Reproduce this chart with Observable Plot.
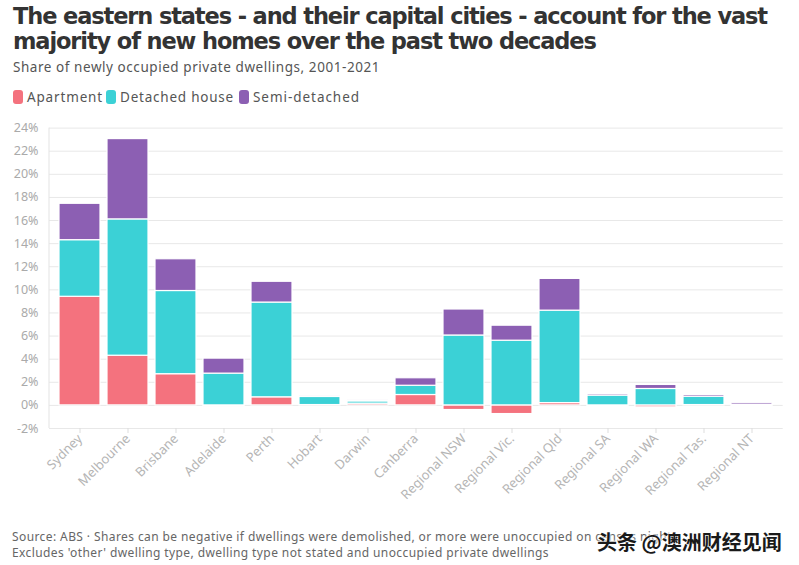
<!DOCTYPE html>
<html>
<head>
<meta charset="utf-8">
<script src="https://cdn.jsdelivr.net/npm/d3@7"></script>
<script src="https://cdn.jsdelivr.net/npm/@observablehq/plot@0.6"></script>
<style>
  html, body { margin: 0; padding: 0; background: #fff; }
  body { width: 799px; height: 565px; position: relative; overflow: hidden; font-family: "Noto Sans", sans-serif; }
  .abs { position: absolute; white-space: nowrap; }
  #title { left: 13px; top: 4px; font-family: "DejaVu Sans", sans-serif; font-weight: 700; font-size: 22.5px; line-height: 24.5px; color: #333; }
  #subtitle { left: 13px; top: 59px; font-size: 13.5px; line-height: 16px; color: #555; }
  #legend { left: 13px; top: 89px; font-size: 13.5px; line-height: 16px; color: #555; }
  .sw { position: absolute; top: 1px; width: 10px; height: 14px; border-radius: 3px; }
  .lt { position: absolute; top: 0; }
  #chart { left: 0; top: 110px; }
  .foot { left: 12px; font-size: 12px; line-height: 16px; color: #666; }
  #wm { left: 597px; top: 527px; font-family: "Noto Sans CJK SC", sans-serif; font-weight: 700; font-size: 20px; color: #1a1a1a; text-shadow: 0 0 2px #fff, 0 0 2px #fff, 0 0 3px #fff; }
</style>
</head>
<body>
<div id="title" class="abs"><div><span id="t1">The eastern states - and their capital cities - account for the vast</span></div><div><span id="t2">majority of new homes over the past two decades</span></div></div>
<div id="subtitle" class="abs"><span id="st">Share of newly occupied private dwellings, 2001-2021</span></div>
<div id="legend" class="abs"></div>
<div id="chart" class="abs"></div>
<div class="abs foot" style="top:529px"><span id="f1">Source: ABS · Shares can be negative if dwellings were demolished, or more were unoccupied on census night</span></div>
<div class="abs foot" style="top:545px"><span id="f2">Excludes 'other' dwelling type, dwelling type not stated and unoccupied private dwellings</span></div>
<div id="wm" class="abs">头条 @澳洲财经见闻</div>
<script>
const categories = ["Sydney","Melbourne","Brisbane","Adelaide","Perth","Hobart","Darwin","Canberra","Regional NSW","Regional Vic.","Regional Qld","Regional SA","Regional WA","Regional Tas.","Regional NT"];
const types = ["Apartment","Detached house","Semi-detached"];
const colors = ["#f4727e","#3bd1d6","#8c5fb3"];
const apartment = [9.4, 4.3, 2.7, -0.1, 0.7, 0.03, 0.15, 0.9, -0.4, -0.75, 0.2, -0.05, -0.17, 0.03, -0.08];
const detached  = [4.9, 11.8, 7.2, 2.75, 8.2, 0.7, 0.2, 0.8, 6.05, 5.6, 8.0, 0.85, 1.42, 0.72, 0.03];
const semi      = [3.15, 6.95, 2.75, 1.3, 1.8, 0.05, 0.1, 0.65, 2.25, 1.3, 2.75, 0.13, 0.35, 0.15, 0.15];
const yTicks = [-2,0,2,4,6,8,10,12,14,16,18,20,22,24];

const series = [apartment, detached, semi];
const data = categories.flatMap((c, i) => types.map((t, k) => ({category: c, type: t, value: series[k][i]})));

function fitEl(el, target) {
  const w = el.getBoundingClientRect().width;
  const n = el.textContent.length;
  el.style.letterSpacing = ((target - w) / n) + "px";
}
function fit(id, target) { fitEl(document.getElementById(id), target); }

// legend
const legend = document.getElementById("legend");
const swX = [0, 93, 226];
const lgW = [76, 114, 107];
types.forEach((t, k) => {
  const s = document.createElement("div"); s.className = "sw"; s.style.left = swX[k] + "px"; s.style.background = colors[k];
  const l = document.createElement("div"); l.className = "lt"; l.style.left = (swX[k] + 14) + "px"; l.textContent = t;
  legend.appendChild(s); legend.appendChild(l);
  fitEl(l, lgW[k]);
});

fit("t1", 754);
fit("st", 367);
fit("f2", 537);
document.getElementById("t2").style.letterSpacing = document.getElementById("t1").style.letterSpacing;
document.getElementById("f1").style.letterSpacing = document.getElementById("f2").style.letterSpacing;

const H = 400, mTop = 17.6, mBottom = 82, mLeft = 49, mRight = 16.3;
const chart = Plot.plot({
  width: 799, height: H,
  marginTop: mTop, marginBottom: mBottom, marginLeft: mLeft, marginRight: mRight,
  style: {fontFamily: "Noto Sans, sans-serif", fontSize: "12.5px", color: "#b0b0b0", background: "transparent"},
  x: {domain: categories, paddingInner: 0.143, paddingOuter: 0.075, label: null},
  y: {domain: [-2, 24], label: null},
  color: {domain: types, range: colors},
  marks: [
    Plot.gridY(yTicks, {stroke: "#e8e8e8", strokeOpacity: 1}),
    Plot.barY(data, {x: "category", y: "value", fill: "type", stroke: "white", strokeWidth: 1.2}),
    Plot.axisY(yTicks, {tickSize: 0, tickPadding: 11, tickFormat: d => d + "%", fill: "#aaa"}),
    Plot.axisX({tickRotate: -45, tickSize: 5, tickPadding: 3, stroke: "#ddd", fill: "#b5b5b5", fontSize: 13, label: null})
  ]
});
d3.select(chart).append("line")
  .attr("x1", mLeft).attr("x2", mLeft).attr("y1", mTop).attr("y2", H - mBottom)
  .attr("stroke", "#e3e3e3");
document.getElementById("chart").appendChild(chart);
</script>
</body>
</html>
